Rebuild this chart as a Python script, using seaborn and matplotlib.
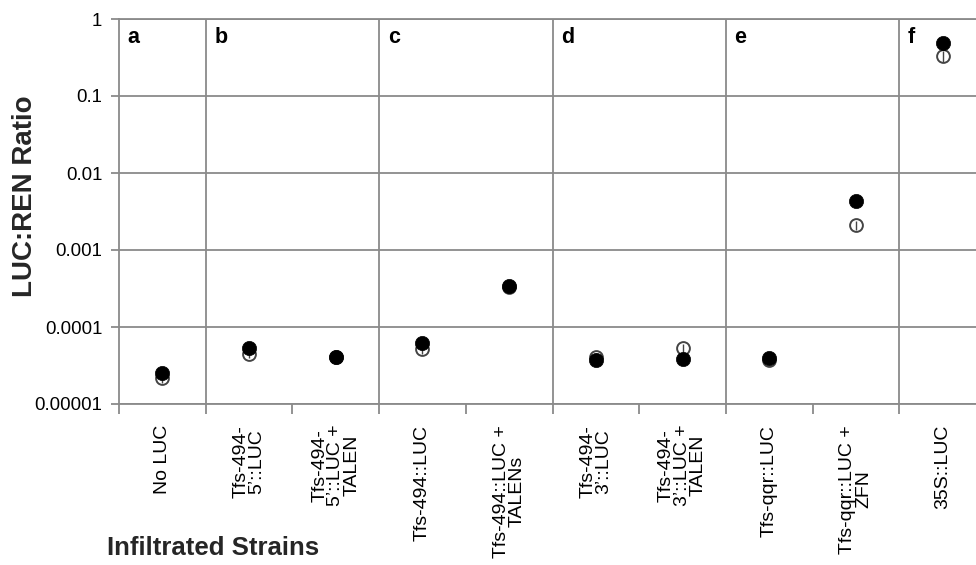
import numpy as np
import pandas as pd
import matplotlib
matplotlib.use("Agg")
import matplotlib.pyplot as plt
import matplotlib.ticker as mticker
import seaborn as sns

# ---- data ----
categories = ["No LUC", "Tfs-494-\n5’::LUC", "Tfs-494-\n5’::LUC +\nTALEN",
              "Tfs-494::LUC", "Tfs-494::LUC +\nTALENs", "Tfs-494-\n3’::LUC",
              "Tfs-494-\n3’::LUC +\nTALEN", "Tfs-qqr::LUC", "Tfs-qqr::LUC +\nZFN",
              "35S::LUC"]
filled_vals = [2.5e-5, 5.3e-5, 4.1e-5, 6.2e-5, 3.4e-4, 3.7e-5, 3.8e-5, 4.0e-5, 4.3e-3, 0.49]
open_vals = [2.2e-5, 4.5e-5, 4.1e-5, 5.2e-5, 3.3e-4, 4.1e-5, 5.3e-5, 3.7e-5, 2.1e-3, 0.33]
open_err = [3e-6, 6e-6, 5e-6, 7e-6, 4e-5, 5e-6, 7e-6, 5e-6, 3e-4, 0.05]
panel_letters = ["a", "b", "c", "d", "e", "f"]
group_sizes = [1, 2, 2, 2, 2, 1]
ytick_vals = [1e-5, 1e-4, 1e-3, 1e-2, 1e-1, 1]
ytick_labels = ["0.00001", "0.0001", "0.001", "0.01", "0.1", "1"]

sns.set_theme(style="white")
plt.rcParams["font.family"] = ["Liberation Sans", "DejaVu Sans"]

GRID = "#8a8a8a"
pos = np.arange(len(categories))
df = pd.DataFrame({"pos": pos, "cat": categories, "filled": filled_vals,
                   "open": open_vals, "err": open_err})

fig = plt.figure(figsize=(9.76, 5.65), dpi=100)
ax = fig.add_axes([119 / 976, 1 - 404 / 565, 867 / 976, 385 / 565])
ax.set_yscale("log")
ax.set_ylim(1e-5, 1)
ax.set_xlim(-0.5, len(categories) - 0.5)

# grid lines
for yv in ytick_vals:
    ax.axhline(yv, color=GRID, lw=1.3, zorder=1)
bounds = np.cumsum(group_sizes)[:-1] - 0.5
for b in bounds:
    ax.axvline(b, color=GRID, lw=1.3, zorder=1)

# open markers
sns.scatterplot(data=df, x="pos", y="open", ax=ax, s=85, color="white",
                edgecolor="#444444", linewidth=1.4, zorder=3, legend=False)
ax.errorbar(df["pos"], df["open"], yerr=df["err"], fmt="none",
            ecolor="#444444", elinewidth=1.0, capsize=0, zorder=4)
# filled markers
sns.scatterplot(data=df, x="pos", y="filled", ax=ax, s=105, color="black",
                edgecolor="black", linewidth=0.5, zorder=5, legend=False)

# panel letters
starts = np.concatenate([[-0.5], bounds])
for letter, st in zip(panel_letters, starts):
    ax.text(st + 0.1, 0.953, letter, transform=ax.get_xaxis_transform(),
            fontsize=15.5, fontweight="bold", ha="left", va="center", color="black")

# spines
for side in ["left", "bottom", "top"]:
    ax.spines[side].set_visible(True)
    ax.spines[side].set_color(GRID)
    ax.spines[side].set_linewidth(1.3)
ax.spines["right"].set_visible(False)

# y ticks
ax.yaxis.set_major_locator(mticker.FixedLocator(ytick_vals))
ax.yaxis.set_major_formatter(mticker.FixedFormatter(ytick_labels))
ax.yaxis.set_minor_locator(mticker.NullLocator())
ax.tick_params(axis="y", which="major", direction="out", length=6, width=1.3,
               color=GRID, labelsize=13.4, pad=6, left=True, labelcolor="black")

# x ticks: boundaries (major, marks) and centers (minor, labels)
ax.xaxis.set_major_locator(mticker.FixedLocator(np.arange(len(categories) + 1) - 0.5))
ax.xaxis.set_major_formatter(mticker.NullFormatter())
ax.xaxis.set_minor_locator(mticker.FixedLocator(pos))
ax.xaxis.set_minor_formatter(mticker.FixedFormatter(categories))
ax.tick_params(axis="x", which="major", direction="out", length=7, width=1.3,
               color=GRID, bottom=True)
ax.tick_params(axis="x", which="minor", length=0, labelsize=14, pad=15,
               bottom=True, labelcolor="black")
for lbl in ax.xaxis.get_minorticklabels():
    lbl.set_rotation(90)
    lbl.set_ha("center")
    lbl.set_va("top")
    lbl.set_multialignment("center")
    lbl.set_linespacing(0.92)

ax.set_xlabel("Infiltrated Strains", fontsize=18.5, fontweight="bold",
              ha="left", va="center")
ax.xaxis.set_label_coords((107 - 119) / 867, (404 - 548) / 385)
ax.set_ylabel("LUC:REN Ratio", fontsize=20, fontweight="bold", va="center")
ax.yaxis.set_label_coords((25 - 119) / 867, 0.54)
ax.grid(False)

fig.savefig("out.png", dpi=100)
